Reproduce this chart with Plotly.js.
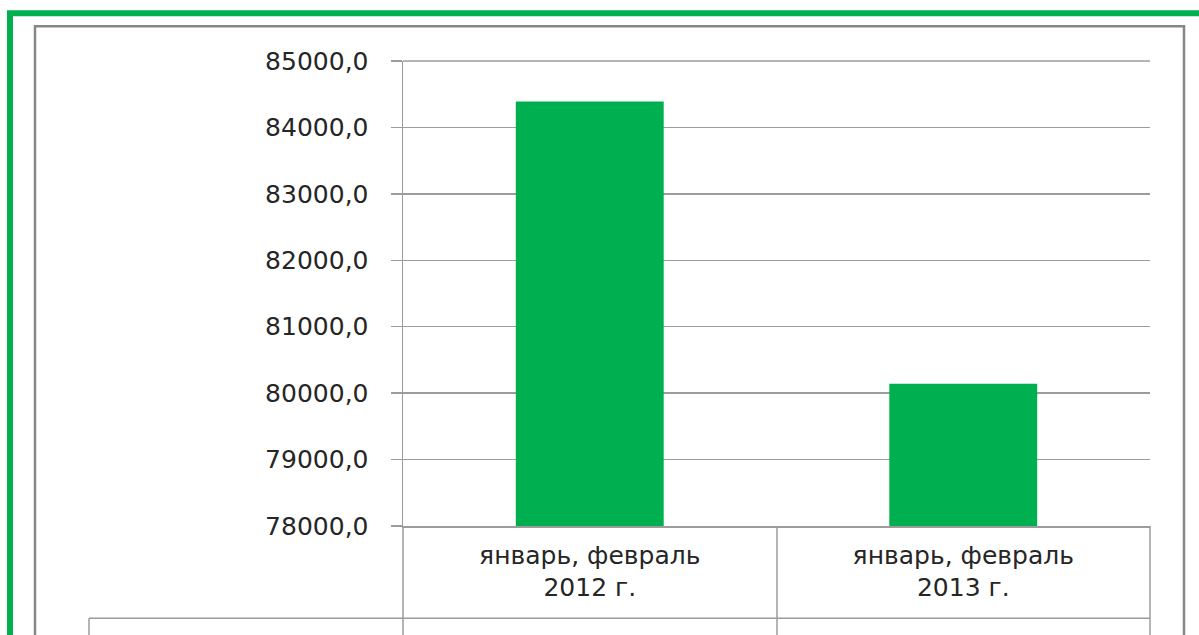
<!DOCTYPE html>
<html>
<head>
<meta charset="utf-8">
<script src="https://cdn.plot.ly/plotly-3.0.1.min.js"></script>
<style>
html,body{margin:0;padding:0;background:#fff;overflow:hidden;}
#chart{width:1199px;height:635px;}
</style>
</head>
<body>
<div id="chart"></div>
<script>
const categories = ["январь, февраль<br>2012 г.", "январь, февраль<br>2013 г."];
const values = [84390, 80140];
const yTicks = [78000, 79000, 80000, 81000, 82000, 83000, 84000, 85000];

const W = 1199, H = 635;
const L = 403, R = 1150, T = 60.7, B = 525.7;
const px = x => (x - L) / (R - L);
const py = y => (B - y) / (B - T);
const gray = '#9c9c9c';

function line(x0, y0, x1, y1, color, width) {
  return {type: 'line', xref: 'paper', yref: 'paper', x0: px(x0), y0: py(y0), x1: px(x1), y1: py(y1),
          line: {color: color, width: width}, layer: 'above'};
}

const shapes = [
  // outer green frame
  {type: 'rect', xref: 'paper', yref: 'paper', x0: px(10), y0: py(13), x1: px(1215), y1: py(660),
   line: {color: '#00B050', width: 6}, fillcolor: 'rgba(0,0,0,0)', layer: 'below'},
  // inner gray frame
  {type: 'rect', xref: 'paper', yref: 'paper', x0: px(35), y0: py(26), x1: px(1184), y1: py(660),
   line: {color: '#868686', width: 2.5}, fillcolor: 'rgba(0,0,0,0)', layer: 'below'},
  // top gridline at the range edge
  {type: 'line', xref: 'paper', yref: 'paper', x0: 0, x1: 1, y0: 1, y1: 1,
   line: {color: gray, width: 1.5}, layer: 'below'},
  // data-table lines
  line(403, 525.7, 403, 640, gray, 1.5),
  line(777, 525.7, 777, 640, gray, 1.5),
  line(1150, 525.7, 1150, 640, gray, 1.5),
  line(89, 618, 1150, 618, gray, 1.5),
  line(89, 618, 89, 640, gray, 1.5)
];

const data = [{
  type: 'bar',
  x: categories,
  y: values,
  marker: {color: '#00B050', line: {width: 0}},
  hoverinfo: 'skip'
}];

const layout = {
  width: W, height: H,
  margin: {l: L, r: W - R, t: T, b: H - B, pad: 0},
  paper_bgcolor: 'rgba(0,0,0,0)',
  plot_bgcolor: 'rgba(0,0,0,0)',
  separators: ', ',
  showlegend: false,
  bargap: 0.604,
  font: {family: 'DejaVu Sans, sans-serif', size: 24, color: '#262626'},
  xaxis: {
    type: 'category',
    showgrid: false,
    showline: true, linecolor: gray, linewidth: 1.5,
    ticks: '', ticklabelstandoff: 6,
    tickfont: {family: 'DejaVu Sans, sans-serif', size: 25, color: '#262626'},
    zeroline: false, fixedrange: true
  },
  yaxis: {
    range: [78000, 85000],
    tickvals: yTicks,
    tickformat: '.1f',
    showgrid: true, gridcolor: gray, gridwidth: 1.5,
    showline: true, linecolor: gray, linewidth: 1.5,
    ticks: 'outside', ticklen: 11, tickcolor: gray, tickwidth: 1.5,
    ticklabelstandoff: 17,
    tickfont: {family: 'DejaVu Sans, sans-serif', size: 25, color: '#262626'},
    zeroline: false, fixedrange: true
  },
  shapes: shapes
};

Plotly.newPlot('chart', data, layout, {staticPlot: true, displayModeBar: false});
</script>
</body>
</html>
